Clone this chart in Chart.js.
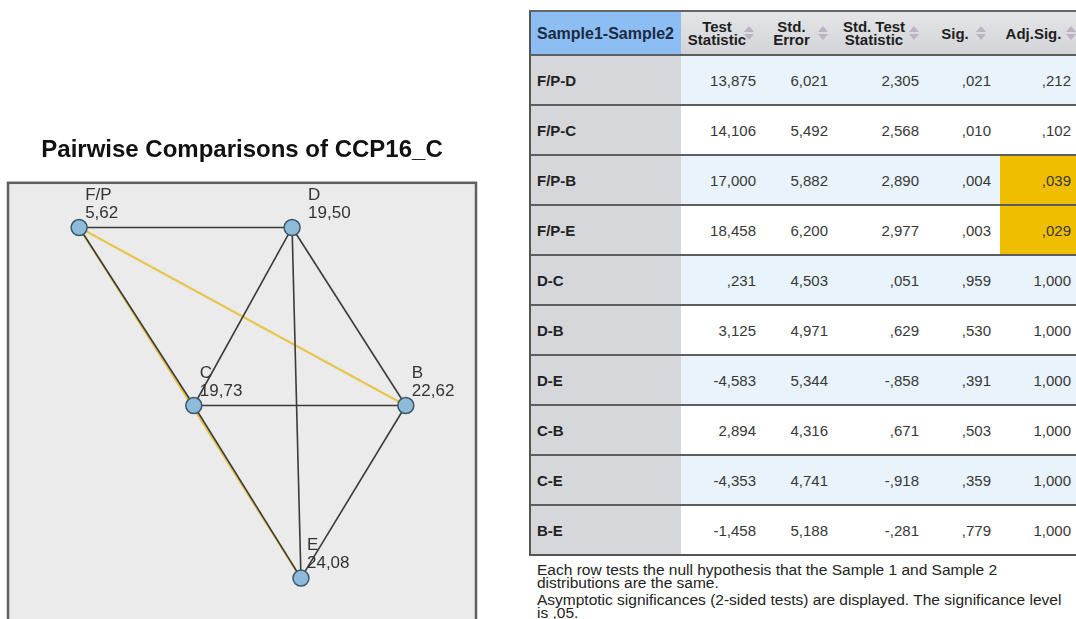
<!DOCTYPE html>
<html>
<head>
<meta charset="utf-8">
<script src="https://cdn.jsdelivr.net/npm/chart.js@4"></script>
<style>
  html, body { margin: 0; padding: 0; width: 1076px; height: 619px; overflow: hidden; background: #fff;
    font-family: "Liberation Sans", Arial, sans-serif; }
  #graphWrap { position: absolute; left: 0; top: 0; width: 480px; height: 640px; }
  #tbl { position: absolute; left: 529px; top: 10px; width: 570px;
    border-left: 2px solid #555; border-top: 2px solid #666; border-bottom: 2px solid #555; }
  .row { display: flex; height: 50px; box-sizing: border-box; border-top: 2px solid #5e5e5e; }
  .row.head { height: 42px; border-top: none; }
  .cell { position: relative; box-sizing: border-box; height: 100%; display: flex; align-items: center;
    justify-content: flex-end; font-size: 15px; color: #383838; white-space: nowrap; }
  .head .cell { background: linear-gradient(#e4e5e7, #d2d4d7); font-weight: bold; color: #1e1e1e;
    justify-content: center; text-align: center; line-height: 13px; }
  .head .cell.first { background: #8dbef3; color: #1b2b44; justify-content: flex-start; padding-left: 6px; font-size: 16px; }
  .lab { background: #d5d7da; font-weight: bold; color: #222; justify-content: flex-start !important; padding-left: 6px; }
  .odd .val { background: #e9f3fc; }
  .even .val { background: #fff; }
  .val.hi { background: #f0be00 !important; }
  .sort { position: absolute; top: 50%; margin-top: -7px; width: 10px; height: 14px; }
  .sort:before, .sort:after { content: ""; position: absolute; left: 0; border-left: 5px solid transparent; border-right: 5px solid transparent; }
  .sort:before { top: 0; border-bottom: 6px solid #bcb2c3; }
  .sort:after { bottom: 0; border-top: 6px solid #bcb2c3; }
  #note { position: absolute; left: 537px; top: 563px; font-size: 15.5px; color: #222; line-height: 13px; white-space: nowrap; }
  #note div + div { margin-top: 4px; }
</style>
</head>
<body>
<div id="graphWrap"><canvas id="graph"></canvas></div>
<div id="tbl"></div>
<div id="note">
  <div>Each row tests the null hypothesis that the Sample 1 and Sample 2<br>distributions are the same.</div>
  <div>Asymptotic significances (2-sided tests) are displayed. The significance level<br>is ,05.</div>
</div>
<script>
// nodes of the graph: name, mean rank and layout position (graph units 0-100)
const nodeNames = ['F/P', 'D', 'C', 'B', 'E'];
const meanRanks = [5.62, 19.50, 19.73, 22.62, 24.08];
const nodeX = [15.2, 60.7, 39.7, 85.0, 62.6];
const nodeY = [10.0, 10.0, 49.8, 49.8, 88.4];

// pairwise comparison table
const columns = ['Test<br>Statistic', 'Std.<br>Error', 'Std. Test<br>Statistic', 'Sig.', 'Adj.Sig.'];
const pairs = ['F/P-D', 'F/P-C', 'F/P-B', 'F/P-E', 'D-C', 'D-B', 'D-E', 'C-B', 'C-E', 'B-E'];
const testStat = [13.875, 14.106, 17.000, 18.458, 0.231, 3.125, -4.583, 2.894, -4.353, -1.458];
const stdError = [6.021, 5.492, 5.882, 6.200, 4.503, 4.971, 5.344, 4.316, 4.741, 5.188];
const stdTestStat = [2.305, 2.568, 2.890, 2.977, 0.051, 0.629, -0.858, 0.671, -0.918, -0.281];
const sig = [0.021, 0.010, 0.004, 0.003, 0.959, 0.530, 0.391, 0.503, 0.359, 0.779];
const adjSig = [0.212, 0.102, 0.039, 0.029, 1.000, 1.000, 1.000, 1.000, 1.000, 1.000];
const alpha = 0.05;

function fmt(v, d) {
  let s = Math.abs(v).toFixed(d).replace('.', ',');
  if (s.startsWith('0,')) s = s.slice(1);
  return (v < 0 ? '-' : '') + s;
}

// ---- table ----
const colW = [150, 80, 75, 90, 74, 91];
const padR = [0, 5, 8, 7, 9, 20];
const arrowR = [0, 7, 8, 7, 14, 15];
const headPadR = [0, 8, 14, 14, 16, 24];
let html = '<div class="row head"><div class="cell first" style="width:' + colW[0] + 'px">Sample1-Sample2</div>';
columns.forEach((c, j) => {
  html += '<div class="cell" style="width:' + colW[j + 1] + 'px;padding-right:' + headPadR[j + 1] + 'px">' + c +
    '<span class="sort" style="right:' + arrowR[j + 1] + 'px"></span></div>';
});
html += '</div>';
pairs.forEach((p, i) => {
  const vals = [fmt(testStat[i], 3), fmt(stdError[i], 3), fmt(stdTestStat[i], 3), fmt(sig[i], 3), fmt(adjSig[i], 3)];
  html += '<div class="row ' + (i % 2 === 0 ? 'odd' : 'even') + '">';
  html += '<div class="cell lab" style="width:' + colW[0] + 'px">' + p + '</div>';
  vals.forEach((v, j) => {
    const hi = j === 4 && adjSig[i] < alpha ? ' hi' : '';
    html += '<div class="cell val' + hi + '" style="width:' + colW[j + 1] + 'px;padding-right:' + padR[j + 1] + 'px">' + v + '</div>';
  });
  html += '</div>';
});
document.getElementById('tbl').innerHTML = html;

// ---- graph ----
const nodePoints = nodeNames.map((n, i) => ({ x: nodeX[i], y: nodeY[i] }));
const edgeSets = pairs.map((p, i) => {
  const [a, b] = p.split('-');
  const ia = nodeNames.indexOf(a), ib = nodeNames.indexOf(b);
  const signif = adjSig[i] < alpha;
  return {
    data: [nodePoints[ia], nodePoints[ib]],
    showLine: true,
    borderColor: signif ? '#e6c64c' : '#3b3b3b',
    borderWidth: signif ? 2.2 : 1.6,
    pointRadius: 0,
    order: signif ? 2 : 1
  };
});

const frame = {
  id: 'frame',
  beforeDraw(chart) {
    const a = chart.chartArea, ctx = chart.ctx;
    ctx.save();
    ctx.fillStyle = '#ebebeb';
    ctx.fillRect(a.left, a.top, a.right - a.left, a.bottom - a.top);
    ctx.strokeStyle = '#5f5f5f';
    ctx.lineWidth = 2.5;
    ctx.strokeRect(a.left, a.top, a.right - a.left, a.bottom - a.top);
    ctx.restore();
  }
};

const nodeLabels = {
  id: 'nodeLabels',
  afterDatasetsDraw(chart) {
    const ctx = chart.ctx, sx = chart.scales.x, sy = chart.scales.y;
    ctx.save();
    ctx.font = '17px "Liberation Sans", Arial, sans-serif';
    ctx.fillStyle = '#333';
    ctx.textAlign = 'left';
    ctx.textBaseline = 'alphabetic';
    nodeNames.forEach((n, i) => {
      const px = sx.getPixelForValue(nodeX[i]);
      const py = sy.getPixelForValue(nodeY[i]);
      const dx = n === 'D' ? 16 : 6;
      ctx.fillText(n, px + dx, py - 28);
      ctx.fillText(fmt(meanRanks[i], 2), px + dx, py - 10);
    });
    ctx.restore();
  }
};

new Chart(document.getElementById('graph'), {
  type: 'scatter',
  data: {
    datasets: [{
      data: nodePoints,
      pointRadius: 8,
      pointBackgroundColor: '#8dbbd9',
      pointBorderColor: '#3c5568',
      pointBorderWidth: 1.5,
      order: 0
    }].concat(edgeSets)
  },
  options: {
    responsive: true,
    maintainAspectRatio: false,
    animation: false,
    layout: { autoPadding: false, padding: { left: 8, right: 4, top: 0, bottom: 10 } },
    scales: {
      x: { display: false, min: 0, max: 100 },
      y: { display: false, min: 0, max: 100, reverse: true }
    },
    plugins: {
      legend: { display: false },
      tooltip: { enabled: false },
      title: {
        display: true,
        text: 'Pairwise Comparisons of CCP16_C',
        color: '#111',
        font: { family: '"Liberation Sans", Arial, sans-serif', size: 24, weight: 'bold' },
        padding: { top: 136, bottom: 18 }
      }
    }
  },
  plugins: [frame, nodeLabels]
});
</script>
</body>
</html>
